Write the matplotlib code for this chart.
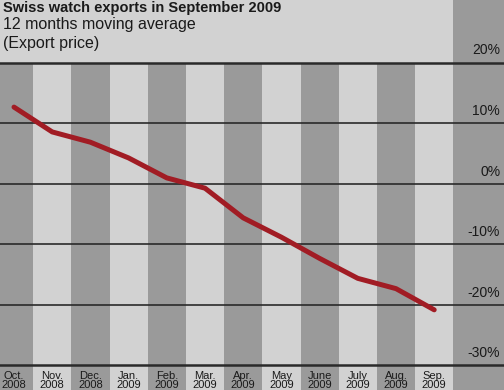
#!/usr/bin/env python3
"""Swiss watch exports, 12 months moving average of export price."""

import matplotlib
matplotlib.use("Agg")
import matplotlib.pyplot as plt

MONTHS = ["Oct.", "Nov.", "Dec.", "Jan.", "Feb.", "Mar.", "Apr.", "May",
          "June", "July", "Aug.", "Sep."]
YEARS = ["2008", "2008", "2008", "2009", "2009", "2009", "2009", "2009",
         "2009", "2009", "2009", "2009"]
EXPORT_PRICE = [12.7, 8.6, 6.9, 4.3, 1.0, -0.7, -5.6, -8.8, -12.3, -15.6, -17.3, -20.8]
Y_TICKS = [20, 10, 0, -10, -20, -30]

DARK = "#9a9a9a"
LIGHT = "#d2d2d2"
RED = "#a11c24"
INK = "#1a1a1a"

plt.rcParams["font.family"] = ["Liberation Sans", "DejaVu Sans"]

fig = plt.figure(figsize=(5.04, 3.90), dpi=100)
ax = fig.add_axes([0, 0, 1, 1])
x_left, x_right = -14 / 38.2, (504 - 14) / 38.2
y_bottom, y_top = -34.05, 30.4
ax.set_xlim(x_left, x_right)
ax.set_ylim(y_bottom, y_top)
ax.axis("off")

n = len(MONTHS)
# month stripes, with the label column at the right
for i in range(n):
    ax.axvspan(i - 0.5, i + 0.5, ymin=0, ymax=(20 - y_bottom) / (y_top - y_bottom),
               color=DARK if i % 2 == 0 else LIGHT, lw=0, zorder=0)
ax.axvspan(n - 0.5, x_right, color=DARK, lw=0, zorder=0)
ax.axhspan(20, y_top, xmin=0, xmax=(n - 0.5 - x_left) / (x_right - x_left),
           color=LIGHT, lw=0, zorder=0)

for t in Y_TICKS:
    lw = 1.8 if t in (20, -30) else 1.2
    ax.axhline(t, color="#2a2a2a", lw=lw, zorder=1)
    ax.text(x_right - 0.1, t + 0.9, f"{t}%", ha="right", va="bottom",
            fontsize=10, color=INK, zorder=3)

ax.plot(range(n), EXPORT_PRICE, color=RED, lw=3.6, solid_capstyle="round",
        solid_joinstyle="round", zorder=2)

for i, (m, yr) in enumerate(zip(MONTHS, YEARS)):
    ax.text(i, -30.9, f"{m}\n{yr}", ha="center", va="top", fontsize=8,
            color=INK, linespacing=0.9, zorder=3)

fig.text(0.006, 1.0 - 12 / 390, "Swiss watch exports in September 2009",
         ha="left", va="baseline", fontsize=10.5, fontweight="bold", color=INK)
fig.text(0.006, 1.0 - 29 / 390, "12 months moving average",
         ha="left", va="baseline", fontsize=11.5, color=INK)
fig.text(0.006, 1.0 - 48 / 390, "(Export price)",
         ha="left", va="baseline", fontsize=11.5, color=INK)

fig.savefig("out.png", dpi=100)
plt.close(fig)
